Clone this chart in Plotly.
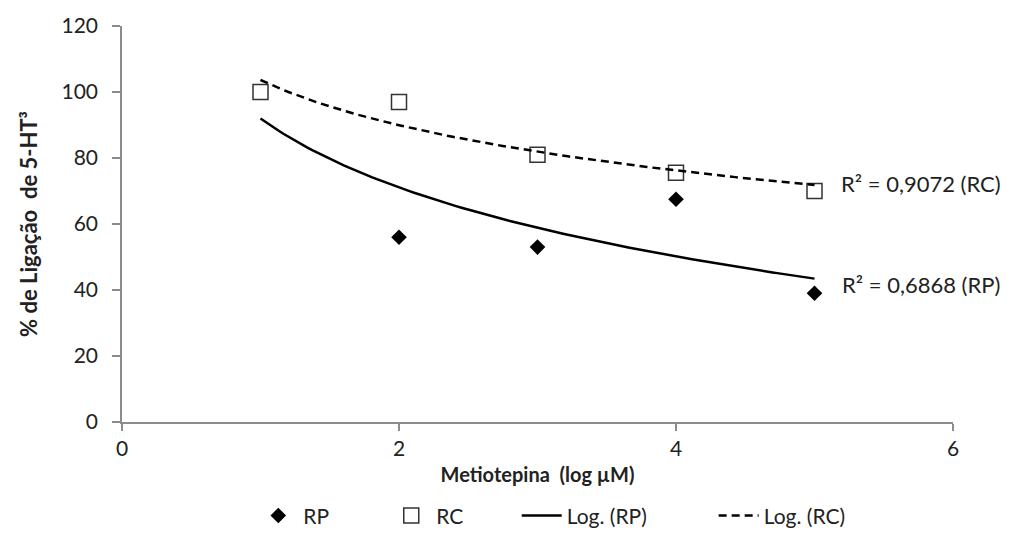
import numpy as np
import plotly.graph_objects as go

x_vals = [1, 2, 3, 4, 5]
rp_vals = [100, 56, 53, 67.5, 39]
rc_vals = [100, 97, 81, 75.5, 70]
x_ticks = [0, 2, 4, 6]
y_ticks = [0, 20, 40, 60, 80, 100, 120]
r2_labels = {"RC": "R² = 0,9072 (RC)", "RP": "R² = 0,6868 (RP)"}

FONT = "Lato"
TXT = "#222222"
AX = "#8c8c8c"

def log_fit(xs, ys):
    a, b = np.polyfit(np.log(xs), ys, 1)
    xx = np.linspace(min(xs), max(xs), 120)
    return xx, a * np.log(xx) + b

fig = go.Figure()
fig.add_trace(go.Scatter(x=x_vals, y=rp_vals, mode="markers", name="RP", legend="legend",
                         marker=dict(symbol="diamond", size=12, color="black",
                                     line=dict(width=0))))
fig.add_trace(go.Scatter(x=x_vals, y=rc_vals, mode="markers", name="RC", legend="legend2",
                         marker=dict(symbol="square", size=15, color="white",
                                     line=dict(width=1.5, color="#333333"))))
xx, yy = log_fit(x_vals, rp_vals)
fig.add_trace(go.Scatter(x=xx, y=yy, mode="lines", name="Log. (RP)", legend="legend3",
                         line=dict(color="black", width=2.5)))
xx2, yy2 = log_fit(x_vals, rc_vals)
fig.add_trace(go.Scatter(x=xx2, y=yy2, mode="lines", name="Log. (RC)", legend="legend4",
                         line=dict(color="black", width=2.5, dash="8px,5px")))

fig.add_annotation(x=5, y=yy2[-1], xref="x", yref="y", text=r2_labels["RC"],
                   showarrow=False, xanchor="left", xshift=24, yshift=2,
                   font=dict(family=FONT, size=22, color=TXT))
fig.add_annotation(x=5, y=yy[-1], xref="x", yref="y", text=r2_labels["RP"],
                   showarrow=False, xanchor="left", xshift=25, yshift=-6,
                   font=dict(family=FONT, size=22, color=TXT))

leg_common = dict(orientation="h", yanchor="middle", y=-0.237, xanchor="left",
                  font=dict(family=FONT, size=21, color=TXT), itemwidth=40,
                  bgcolor="rgba(0,0,0,0)")

fig.update_layout(
    width=1010, height=550,
    margin=dict(l=122, r=57, t=24, b=128),
    plot_bgcolor="white", paper_bgcolor="white",
    font=dict(family=FONT, size=21, color=TXT),
    showlegend=True,
    legend=dict(x=0.158, **leg_common),
    legend2=dict(x=0.318, **leg_common),
    legend3=dict(x=0.475, **leg_common),
    legend4=dict(x=0.712, **leg_common),
)
fig.update_xaxes(range=[0, 6], tickvals=x_ticks, showgrid=False, zeroline=False,
                 showline=True, linecolor=AX, linewidth=1.5,
                 ticks="outside", tickcolor=AX, ticklen=7, tickwidth=1.5,
                 tickfont=dict(family=FONT, size=21, color=TXT),
                 title=dict(text="<b>Metiotepina  (log µM)</b>", standoff=9,
                            font=dict(family=FONT, size=20, color=TXT)))
fig.update_yaxes(range=[0, 120], tickvals=y_ticks, showgrid=False, zeroline=False,
                 showline=True, linecolor=AX, linewidth=1.5,
                 ticks="outside", tickcolor=AX, ticklen=8, tickwidth=1.5,
                 ticklabelstandoff=10,
                 tickfont=dict(family=FONT, size=21, color=TXT),
                 title=dict(text="<b>% de Ligação  de 5-HT³</b>", standoff=18,
                            font=dict(family=FONT, size=22, color=TXT)))

fig.write_html("out.html")
